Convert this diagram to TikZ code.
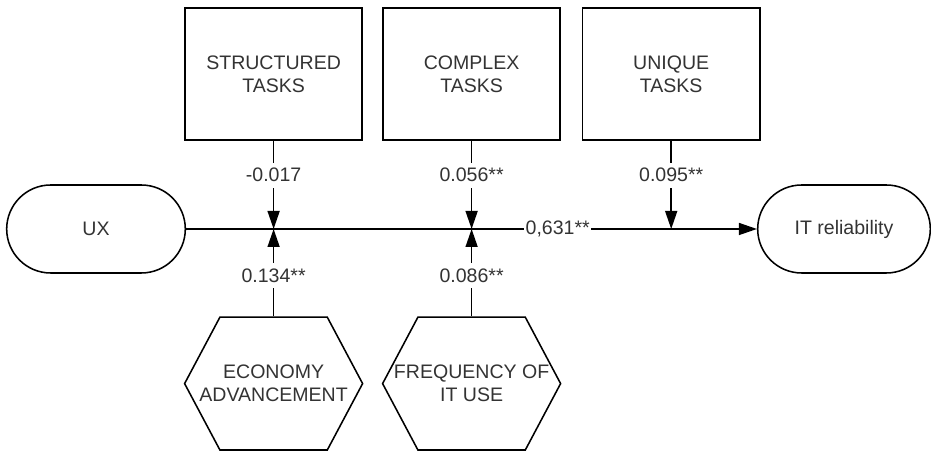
\documentclass[tikz,border=0pt]{standalone}
\usepackage{fontspec}
\setmainfont{Liberation Sans}
\usetikzlibrary{shapes.misc,shapes.symbols,arrows.meta}
\definecolor{txtgray}{HTML}{333333}

\begin{document}
\begin{tikzpicture}[
    every node/.style={font=\fontsize{13.9}{16.3}\selectfont,text=txtgray},
    line width=1.1pt,
    pill/.style={draw,rounded rectangle,minimum width=4.7cm,minimum height=2.2cm},
    taskbox/.style={draw,minimum width=4.43cm,minimum height=3.3cm,align=center},
    hexa/.style={draw,signal,signal to=east and west,signal pointer angle=124,
        minimum width=4.45cm,minimum height=3.32cm,inner sep=0pt},
    coef/.style={fill=white,inner xsep=1pt,inner ysep=4pt},
    >={Triangle[length=0.45cm,width=0.3cm]}]
    \useasboundingbox (0,0) rectangle (23.275,11.3);

    % outcome path
    \node[pill] (ux) at (2.4,5.575) {UX};
    \node[pill,minimum width=4.55cm] (itrel) at (21.1,5.575) {IT reliability};
    \draw[->] (ux) -- node[coef,pos=0.651] {0,631**} (itrel);

    % task moderators
    \node[taskbox] (struct) at (6.84,9.45) {STRUCTURED\\TASKS};
    \node[taskbox] (complex) at (11.79,9.45) {COMPLEX\\TASKS};
    \node[taskbox] (unique) at (16.78,9.45) {UNIQUE\\TASKS};
    \draw[->] (struct) -- node[coef,pos=0.39] {-0.017} (struct |- ux);
    \draw[->] (complex) -- node[coef,pos=0.39] {0.056**} (complex |- ux);
    \draw[->] (unique) -- node[coef,pos=0.39] {0.095**} (unique |- ux);

    % context moderators
    \node[hexa,label={[align=center]center:{ECONOMY\\ADVANCEMENT}}] (econ) at (6.84,1.71) {};
    \node[hexa,label={[align=center]center:{FREQUENCY OF\\IT USE}}] (freq) at (11.79,1.71) {};
    \draw[->] (econ) -- node[coef,pos=0.47] {0.134**} (econ |- ux);
    \draw[->] (freq) -- node[coef,pos=0.47] {0.086**} (freq |- ux);
\end{tikzpicture}
\end{document}
